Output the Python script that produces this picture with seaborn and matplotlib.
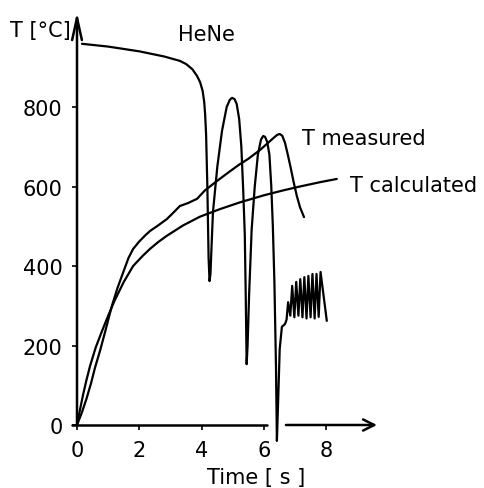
import matplotlib
matplotlib.use("Agg")
import matplotlib.pyplot as plt
import seaborn as sns
import pandas as pd

# ---- data ----
calc_t = [0.0, 0.1, 0.2, 0.3, 0.42, 0.6, 0.79, 1.0, 1.2, 1.5, 1.8, 2.1, 2.34, 2.6,
          2.88, 3.4, 3.94, 4.58, 5.22, 6.0, 6.6, 7.15, 7.8, 8.33]
calc_T = [0, 40, 78, 112, 149, 195, 234, 275, 312, 360, 400, 425, 443, 460,
          476, 502, 524, 543, 560, 578, 590, 600, 611, 619]

meas_t = [0.0, 0.15, 0.3, 0.45, 0.58, 0.75, 0.9, 1.12, 1.3, 1.5, 1.65, 1.8, 2.0,
          2.2, 2.34, 2.6, 2.88, 3.1, 3.3, 3.55, 3.85, 4.1, 4.49, 4.9, 5.2, 5.5,
          5.87, 6.1, 6.3, 6.42, 6.5, 6.58, 6.67, 6.76, 6.85, 6.95, 7.05, 7.15, 7.28]
meas_T = [0, 30, 65, 105, 145, 190, 234, 300, 345, 388, 420, 443, 462,
          478, 488, 502, 518, 535, 551, 558, 569, 590, 614, 638, 655, 670,
          692, 708, 722, 730, 732, 728, 710, 680, 648, 610, 576, 548, 523]

hene_t = [0.16, 1.0, 2.0, 2.8, 3.3, 3.5, 3.7, 3.85, 3.95, 4.03, 4.08, 4.11, 4.14,
          4.18, 4.22, 4.25, 4.28, 4.32, 4.36, 4.5, 4.65, 4.8, 4.9, 4.97, 5.05,
          5.12, 5.2, 5.27, 5.33, 5.38, 5.41, 5.44, 5.47, 5.52, 5.6, 5.7, 5.8,
          5.9, 5.97, 6.03, 6.1, 6.17, 6.23, 6.28, 6.33, 6.38, 6.41, 6.45, 6.5,
          6.57, 6.67, 6.72,
          6.77, 6.84, 6.9, 6.97, 7.03, 7.1, 7.16, 7.23, 7.29, 7.36, 7.42, 7.49,
          7.55, 7.62, 7.68, 7.75, 7.81, 8.01]
hene_T = [959, 952, 940, 927, 916, 908, 895, 878, 862, 840, 812, 780, 730,
          600, 420, 362, 380, 460, 536, 650, 740, 800, 818, 823, 820,
          808, 770, 700, 590, 480, 330, 153, 200, 330, 491, 600, 680,
          718, 727, 725, 712, 680, 600, 500, 360, 150, -40, 60, 191,
          247, 254, 265,
          309, 275, 350, 271, 360, 275, 367, 271, 372, 268, 375, 271,
          380, 268, 380, 272, 385, 262]

x_ticks = [0, 2, 4, 6, 8]
y_ticks = [0, 200, 400, 600, 800]

sns.set_style("white")
plt.rcParams["font.family"] = ["DejaVu Sans"]
plt.rcParams["text.color"] = "black"

fig = plt.figure(figsize=(4.85, 4.89), dpi=100)
ax = fig.add_axes([77 / 485, 63 / 489, 300 / 485, 413 / 489])

lw = 1.6
for t, T in [(calc_t, calc_T), (meas_t, meas_T), (hene_t, hene_T)]:
    df = pd.DataFrame({"t": t, "T": T})
    sns.lineplot(data=df, x="t", y="T", ax=ax, color="black", linewidth=lw,
                 sort=False, estimator=None, clip_on=False)

ax.set_xlim(0, 9.62)
ax.set_ylim(0, 1039)
for s in ax.spines.values():
    s.set_visible(False)

# axes with arrows
ax.plot([-0.16, 6.08], [0, 0], color="black", lw=1.8, clip_on=False)
ax.annotate("", xy=(9.62, 0), xytext=(6.7, 0), annotation_clip=False,
            arrowprops=dict(arrowstyle="->,head_length=0.5,head_width=0.25",
                            lw=1.8, color="black", mutation_scale=16,
                            shrinkA=0, shrinkB=0))
ax.annotate("", xy=(0, 1039), xytext=(0, 0), annotation_clip=False,
            arrowprops=dict(arrowstyle="->,head_length=1.0,head_width=0.22",
                            lw=1.8, color="black", mutation_scale=16,
                            shrinkA=0, shrinkB=0))

ax.set_xticks(x_ticks)
ax.set_yticks(y_ticks)
ax.tick_params(axis="both", direction="out", length=3.5, width=1.2,
               labelsize=15, pad=7, colors="black", bottom=True, left=True)
ax.set_xlabel("")
ax.set_ylabel("")

fs = 15
kw = dict(transform=ax.transAxes, fontsize=fs, color="black", va="center")
ax.text(-67 / 300, (426 - 31) / 413, "T [°C]", ha="left", **kw)
ax.text((178 - 77) / 300, (426 - 35) / 413, "HeNe", ha="left", **kw)
ax.text((302 - 77) / 300, (426 - 139) / 413, "T measured", ha="left", **kw)
ax.text((350 - 77) / 300, (426 - 186) / 413, "T calculated", ha="left", **kw)
ax.text((256 - 77) / 300, (426 - 478) / 413, "Time [ s ]", ha="center", **kw)

fig.savefig("out.png", dpi=100)
